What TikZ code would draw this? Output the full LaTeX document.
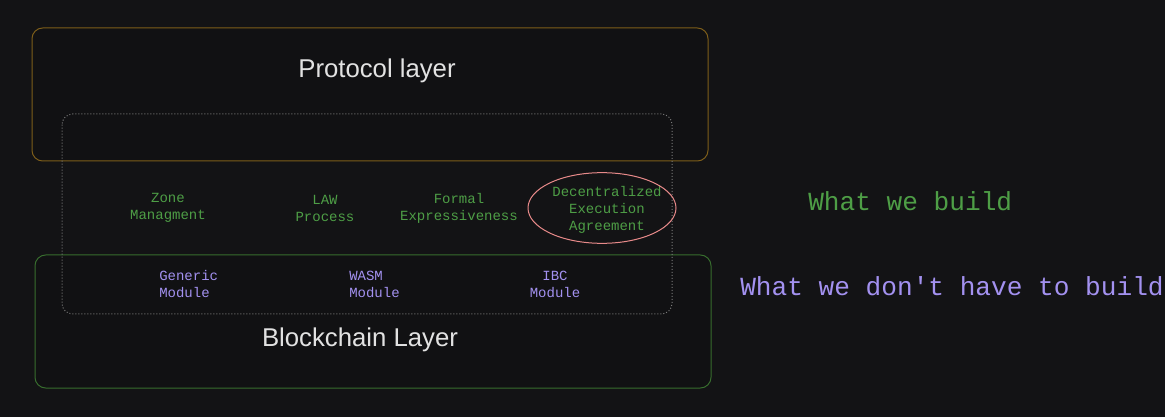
\documentclass[tikz,border=0pt]{standalone}
\usepackage{fontspec}
\setmainfont{Liberation Sans}
\setmonofont{Liberation Mono}
\usetikzlibrary{positioning, shapes.geometric}

\definecolor{bgcol}{HTML}{131315}
\definecolor{boxfill}{HTML}{111113}
\definecolor{protocolline}{HTML}{7E5E1A}
\definecolor{chainline}{HTML}{386E2E}
\definecolor{dotline}{HTML}{7A7A7A}
\definecolor{ringred}{HTML}{E88A8A}
\definecolor{titletext}{HTML}{E2E2E2}
\definecolor{buildgreen}{HTML}{4E9E46}
\definecolor{reusepurple}{HTML}{A391F0}

\begin{document}
\begin{tikzpicture}[x=0.75pt,y=-0.75pt,
  layer/.style={inner sep=0pt, text=titletext, font=\fontsize{19.3}{23}\selectfont},
  built/.style={inner sep=0pt, text=buildgreen, align=center,
    font=\ttfamily\fontsize{10.5}{12.75}\selectfont},
  reused/.style={inner sep=0pt, text=reusepurple,
    font=\ttfamily\fontsize{10.5}{12.75}\selectfont},
  legend/.style={inner sep=0pt, anchor=west, font=\ttfamily\fontsize{19.6}{23}\selectfont}]

  \useasboundingbox[fill=bgcol] (0,0) rectangle (1165,417);

  % the two layers and the part in between
  \draw[protocolline, fill=boxfill, line width=0.75pt, rounded corners=8] (32,28) rectangle (708,161);
  \draw[chainline, fill=boxfill, line width=0.75pt, rounded corners=8] (35,255) rectangle (711,388);
  \draw[dotline, dash pattern=on 0.75pt off 1.5pt, line width=0.75pt, rounded corners=8] (62,114) rectangle (672,314);

  \node (protocol) [layer] at (377,71) {Protocol layer};
  \node (chain) [layer] at (360,340) {Blockchain Layer};

  % what we build
  \node (zone) [built] at (168,208) {Zone\\Managment};
  \node (law) [built] at (325,208) {LAW\\Process};
  \node (formal) [built] at (459,208) {Formal\\Expressiveness};
  \node (dea) [built] at (607,210) {Decentralized\\Execution\\Agreement};
  \node (ring) [ellipse, draw=ringred, line width=0.75pt,
    minimum width=111pt, minimum height=53pt] at (602,208) {};

  % what comes with the chain
  \node (generic) [reused, align=left, anchor=west] at (159,284) {Generic\\Module};
  \node (wasm) [reused, align=left, anchor=west] at (349,284) {WASM\\Module};
  \node (ibc) [reused, align=center] at (555,284) {IBC\\Module};

  \node (build) [legend, text=buildgreen] at (808,201) {What we build};
  \node (nobuild) [legend, text=reusepurple] at (740,286) {What we don't have to build};
\end{tikzpicture}
\end{document}
